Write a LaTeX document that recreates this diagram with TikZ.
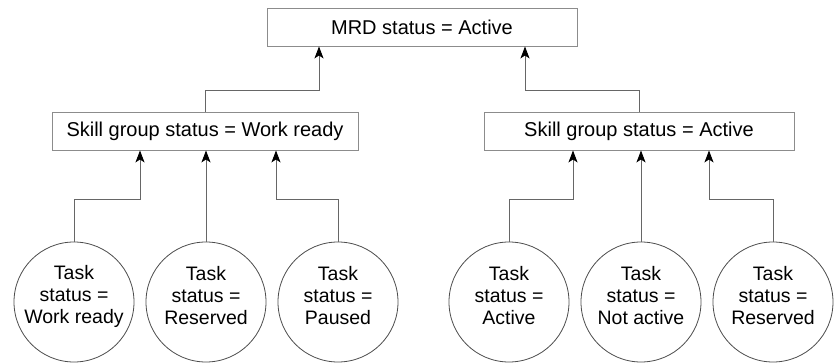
\documentclass[tikz,border=0pt]{standalone}
\usepackage{fontspec}
\setmainfont{Liberation Sans}
\usetikzlibrary{arrows.meta}
\begin{document}
\begin{tikzpicture}[x=1pt,y=-1pt,
  box/.style={draw=black!45,line width=0.9pt,rectangle,minimum height=38pt,inner sep=0pt,
    font=\fontsize{20}{22}\selectfont},
  task/.style={draw=black!70,line width=0.8pt,circle,minimum size=120pt,inner sep=0pt,
    label={[align=center,font=\fontsize{19.5}{22}\selectfont,yshift=6pt]center:#1}},
  conn/.style={draw=black!60,line width=0.9pt,-{Stealth[length=12pt,width=9pt,inset=3pt,black]}}]
\useasboundingbox (0,0) rectangle (839,363);
\node[box,minimum width=310pt] (mrd) at (422,27) {MRD status = Active};
\node[box,minimum width=306pt] (sg1) at (205,131) {Skill group status = Work ready};
\node[box,minimum width=310pt] (sg2) at (639,131) {Skill group status = Active};
\node[task={Task\\status =\\Work ready}] (c1) at (74,302) {};
\node[task={Task\\status =\\Reserved}] (c2) at (206,302) {};
\node[task={Task\\status =\\Paused}] (c3) at (338,302) {};
\node[task={Task\\status =\\Active}] (c4) at (509,302) {};
\node[task={Task\\status =\\Not active}] (c5) at (641,302) {};
\node[task={Task\\status =\\Reserved}] (c6) at (773,302) {};
\coordinate (t1) at (319,90);
\coordinate (t2) at (525,90);
\coordinate (k1) at (140,199);
\coordinate (k3) at (276,199);
\coordinate (k4) at (573,199);
\coordinate (k6) at (709,199);
\draw[conn] (sg1.north) |- (t1) -- (t1 |- mrd.south);
\draw[conn] (sg2.north) |- (t2) -- (t2 |- mrd.south);
\draw[conn] (c1.north) |- (k1) -- (k1 |- sg1.south);
\draw[conn] (c2.north) -- (c2.north |- sg1.south);
\draw[conn] (c3.north) |- (k3) -- (k3 |- sg1.south);
\draw[conn] (c4.north) |- (k4) -- (k4 |- sg2.south);
\draw[conn] (c5.north) -- (c5.north |- sg2.south);
\draw[conn] (c6.north) |- (k6) -- (k6 |- sg2.south);
\end{tikzpicture}
\end{document}
